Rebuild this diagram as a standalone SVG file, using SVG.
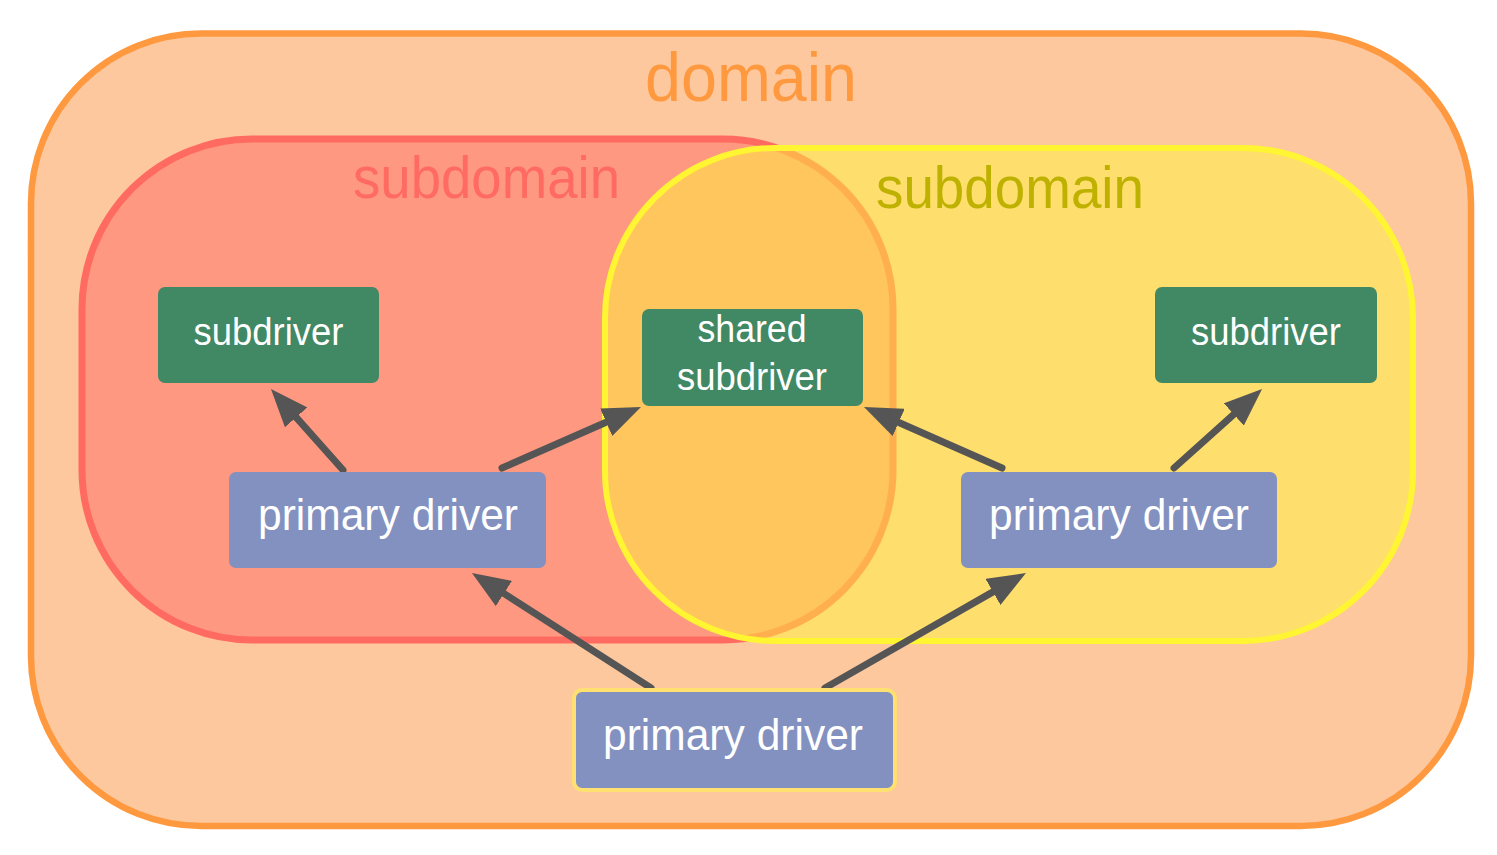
<svg xmlns="http://www.w3.org/2000/svg" width="1497" height="855" viewBox="0 0 1497 855">
<defs>
<style>
text{font-family:"Liberation Sans",Arial,sans-serif;text-anchor:middle;}
.sub rect{fill:#418865;}
.sub text{fill:#ffffff;font-size:38px;}
.pd rect{fill:#8391C0;}
.pd text{fill:#ffffff;font-size:44px;}
.conn line{stroke:#555555;stroke-width:7;stroke-linecap:round;fill:none;marker-end:url(#ah);}
</style>
<marker id="ah" markerUnits="userSpaceOnUse" viewBox="0 0 38 30" markerWidth="38" markerHeight="30" refX="3" refY="15" orient="auto">
<path d="M0,0 L38,15 L0,30 Z" fill="#555555"/>
</marker>
</defs>
<rect width="1497" height="855" fill="#ffffff"/>
<g id="domain">
<rect x="31" y="33.5" width="1440" height="792.5" rx="170" ry="170" fill="#FDC89E" stroke="#FF9940" stroke-width="6.5"/>
<text x="751" y="101" font-size="68" fill="#FF9940" textLength="212" lengthAdjust="spacingAndGlyphs">domain</text>
</g>
<g id="subdomain-red">
<rect x="82" y="139" width="811" height="501" rx="170" ry="170" fill="#FF9880" stroke="#FF6B60" stroke-width="7"/>
<text x="486.5" y="198" font-size="60" fill="#FF6B60" textLength="267" lengthAdjust="spacingAndGlyphs">subdomain</text>
</g>
<g id="subdomain-yellow">
<rect x="605" y="148" width="808" height="493" rx="170" ry="170" fill="rgb(255,243,58)" fill-opacity="0.5" stroke="#FFF532" stroke-width="6"/>
<text x="1010" y="208" font-size="60" fill="#BEB100" textLength="268" lengthAdjust="spacingAndGlyphs">subdomain</text>
</g>
<g id="connectors" class="conn">
<line x1="343" y1="470" x2="294.2" y2="415.1"/>
<line x1="502" y1="468" x2="608.95" y2="421.06"/>
<line x1="1002" y1="468" x2="896" y2="421.2"/>
<line x1="1174" y1="468" x2="1236" y2="412.4"/>
<line x1="651" y1="688" x2="501.4" y2="591.9"/>
<line x1="825" y1="688" x2="995.6" y2="590.4"/>
</g>
<g id="subdriver-left" class="sub">
<rect x="158" y="287" width="221" height="96" rx="7"/>
<text x="268.5" y="345" textLength="150" lengthAdjust="spacingAndGlyphs">subdriver</text>
</g>
<g id="shared-subdriver" class="sub">
<rect x="642" y="309" width="221" height="97" rx="7"/>
<text x="752" y="342" textLength="109" lengthAdjust="spacingAndGlyphs">shared</text>
<text x="752" y="390" textLength="150" lengthAdjust="spacingAndGlyphs">subdriver</text>
</g>
<g id="subdriver-right" class="sub">
<rect x="1155" y="287" width="222" height="96" rx="7"/>
<text x="1266" y="345" textLength="150" lengthAdjust="spacingAndGlyphs">subdriver</text>
</g>
<g id="primary-left" class="pd">
<rect x="229" y="472" width="317" height="96" rx="7"/>
<text x="388" y="530" textLength="260" lengthAdjust="spacingAndGlyphs">primary driver</text>
</g>
<g id="primary-right" class="pd">
<rect x="961" y="472" width="316" height="96" rx="7"/>
<text x="1119" y="530" textLength="260" lengthAdjust="spacingAndGlyphs">primary driver</text>
</g>
<g id="primary-bottom" class="pd">
<rect x="574" y="690" width="321" height="100" rx="8" stroke="#FFE070" stroke-width="4"/>
<text x="733" y="750" textLength="260" lengthAdjust="spacingAndGlyphs">primary driver</text>
</g>
</svg>
